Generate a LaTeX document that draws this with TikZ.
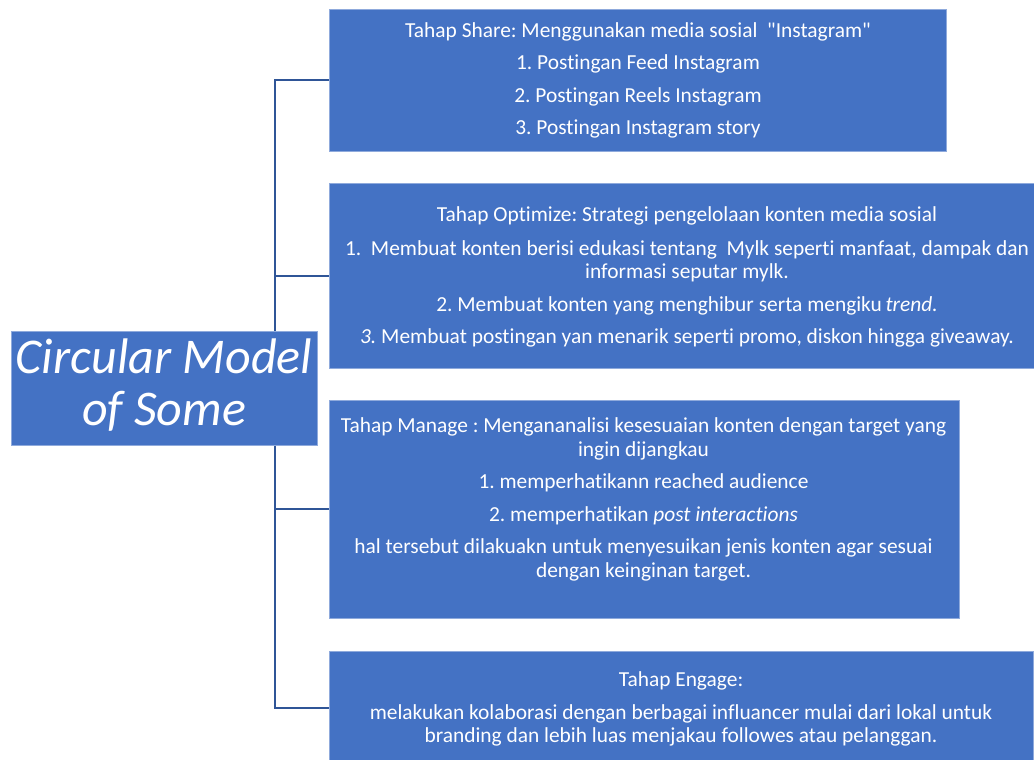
\documentclass[tikz,border=0pt]{standalone}
\usepackage{fontspec}
\setmainfont{Carlito}[Ligatures={NoCommon,TeXOff}]
\frenchspacing
\definecolor{boxblue}{HTML}{4472C4}
\definecolor{boxedge}{HTML}{8FAADC}
\definecolor{linkblue}{HTML}{2F5597}
\begin{document}
\begin{tikzpicture}[x=1pt,y=-1pt,
  panel/.style={draw=boxedge,line width=0.8pt,fill=boxblue,inner sep=0pt},
  txt/.style={text=white,anchor=base,inner sep=0pt,font=\fontsize{21.4}{25}\selectfont},
  ttl/.style={text=white,anchor=base,inner sep=0pt,font=\fontsize{50}{56}\selectfont\itshape},
  link/.style={draw=linkblue,line width=2pt}]
\useasboundingbox (0,0) rectangle (1034,760);
% boxes
\node[panel,minimum width=306pt,minimum height=114.5pt] (title) at (164,388.25) {};
\node[panel,minimum width=617pt,minimum height=142pt] (b1) at (638,80) {};
\node[panel,minimum width=714pt,minimum height=185pt] (b2) at (686.5,275.5) {};
\node[panel,minimum width=629.5pt,minimum height=218pt] (b3) at (644.25,509) {};
\node[panel,minimum width=703.5pt,minimum height=114pt] (b4) at (681.25,708) {};
% connectors
\coordinate (trunk) at (275,0);
\draw[link] (title.north -| trunk) |- (b1.west);
\draw[link] (title.north -| trunk) |- (b2.west);
\draw[link] (title.south -| trunk) |- (b3.west);
\draw[link] (title.south -| trunk) |- (b4.west);
% title text
\node[ttl] (t1) at (164,373) {Circular Model};
\node[ttl] (t2) at (164,425) {of Some};
% box 1
\node[txt] (s0) at (638,37.5) {Tahap Share: Menggunakan media sosial\ \ "Instagram"};
\node[txt] (s1) at (638,70) {1. Postingan Feed Instagram};
\node[txt] (s2) at (638,102.5) {2. Postingan Reels Instagram};
\node[txt] (s3) at (638,135) {3. Postingan Instagram story};
% box 2
\node[txt] (o0) at (687,221.5) {Tahap Optimize: Strategi pengelolaan konten media sosial};
\node[txt] (o1) at (687,255) {1.\ \ Membuat konten berisi edukasi tentang\ \ Mylk seperti manfaat, dampak dan};
\node[txt] (o2) at (687,278) {informasi seputar mylk.};
\node[txt] (o3) at (687,311) {2. Membuat konten yang menghibur serta mengiku\,\textit{trend.}};
\node[txt] (o4) at (687,343.5) {\textit{3.} Membuat postingan yan menarik seperti promo, diskon hingga giveaway.};
% box 3
\node[txt] (m0) at (643.5,432.5) {Tahap Manage : Mengananalisi kesesuaian konten dengan target yang};
\node[txt] (m1) at (643.5,456) {ingin dijangkau};
\node[txt] (m2) at (643.5,488.3) {1. memperhatikann reached audience};
\node[txt] (m3) at (643.5,521) {2. memperhatikan \textit{post interactions}};
\node[txt] (m4) at (643.5,553.3) {hal tersebut dilakuakn untuk menyesuikan jenis konten agar sesuai};
\node[txt] (m5) at (643.5,577) {dengan keinginan target.};
% box 4
\node[txt] (e0) at (681,686) {Tahap Engage:};
\node[txt] (e1) at (681,719.3) {melakukan kolaborasi dengan berbagai influancer mulai dari lokal untuk};
\node[txt] (e2) at (681,742) {branding dan lebih luas menjakau followes atau pelanggan.};
\end{tikzpicture}
\end{document}
